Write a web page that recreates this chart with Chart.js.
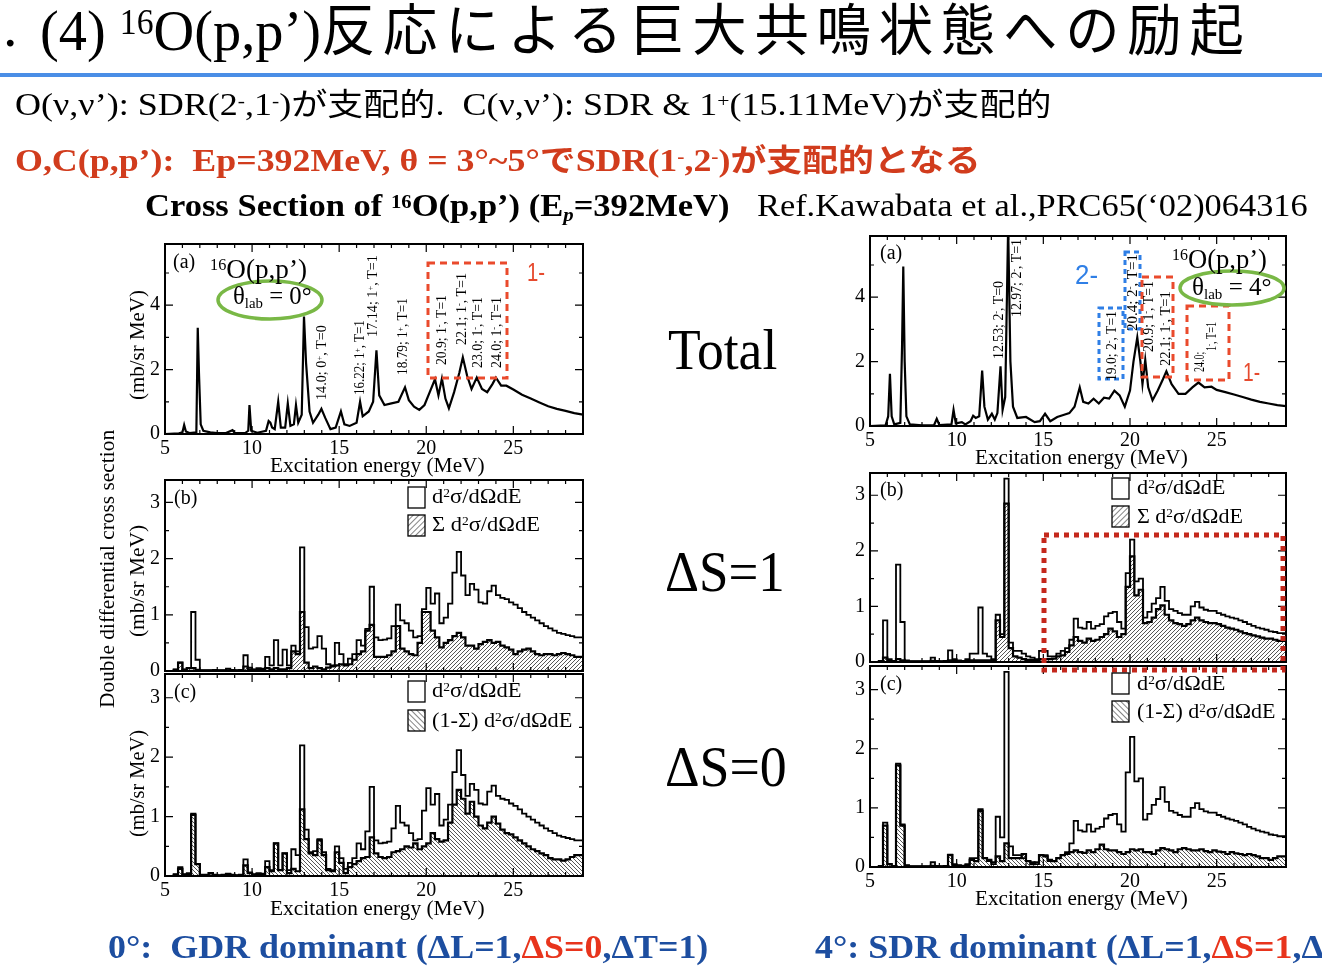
<!DOCTYPE html>
<html>
<head>
<meta charset="utf-8">
<script src="https://cdn.jsdelivr.net/npm/chart.js@4.4.0/dist/chart.umd.min.js"></script>
<style>
html,body{margin:0;padding:0;background:#fff;}
body{width:1322px;height:974px;position:relative;overflow:hidden;font-family:'Liberation Serif','Noto Sans CJK JP',serif;color:#000;}
.t{position:absolute;white-space:nowrap;line-height:1;transform-origin:0 50%;}
.r{position:absolute;white-space:nowrap;line-height:1;transform-origin:0 0;transform:rotate(-90deg);}
sup{font-size:0.6em;vertical-align:baseline;position:relative;top:-0.45em;}
sub{font-size:0.6em;vertical-align:baseline;position:relative;top:0.25em;}
.jp{font-family:'Noto Sans CJK JP',sans-serif;}
canvas{position:absolute;}
svg{position:absolute;left:0;top:0;}
</style>
</head>
<body>
<div id="plots"></div>

<svg width="1322" height="974">
  <defs>
    <pattern id="hF" width="4" height="4" patternUnits="userSpaceOnUse" patternTransform="rotate(45)">
      <rect width="4" height="4" fill="#fff"/><line x1="0" y1="0" x2="0" y2="4" stroke="#333" stroke-width="1.2"/>
    </pattern>
    <pattern id="hB" width="4" height="4" patternUnits="userSpaceOnUse" patternTransform="rotate(-45)">
      <rect width="4" height="4" fill="#fff"/><line x1="0" y1="0" x2="0" y2="4" stroke="#333" stroke-width="1.2"/>
    </pattern>
  </defs>
  <!-- annotations, panel a -->
  <rect x="428" y="263" width="79" height="115" fill="none" stroke="#ea4a2c" stroke-width="3" stroke-dasharray="7 5"/>
  <ellipse cx="270" cy="300" rx="52" ry="19" fill="none" stroke="#79b846" stroke-width="3.5"/>
  <rect x="1099" y="308" width="24" height="71" fill="none" stroke="#2f7fe6" stroke-width="3" stroke-dasharray="5 4"/>
  <rect x="1125" y="252" width="15" height="77" fill="none" stroke="#2f7fe6" stroke-width="3" stroke-dasharray="5 4"/>
  <rect x="1142" y="277" width="31" height="100" fill="none" stroke="#ea4a2c" stroke-width="3" stroke-dasharray="7 5"/>
  <rect x="1187" y="306" width="42" height="74" fill="none" stroke="#ea4a2c" stroke-width="3" stroke-dasharray="7 5"/>
  <ellipse cx="1232" cy="288" rx="52" ry="17" fill="none" stroke="#79b846" stroke-width="3.5"/>
  <rect x="1044" y="535" width="239" height="135" fill="none" stroke="#c4281c" stroke-width="5" stroke-dasharray="5 5"/>
  <!-- legend boxes -->
  <rect x="408" y="487" width="17" height="21" fill="#fff" stroke="#000" stroke-width="1.3"/>
  <rect x="408" y="515" width="17" height="21" fill="url(#hF)" stroke="#000" stroke-width="1.3"/>
  <rect x="408" y="681" width="17" height="21" fill="#fff" stroke="#000" stroke-width="1.3"/>
  <rect x="408" y="710" width="17" height="21" fill="url(#hB)" stroke="#000" stroke-width="1.3"/>
  <rect x="1112" y="478" width="17" height="21" fill="#fff" stroke="#000" stroke-width="1.3"/>
  <rect x="1112" y="506" width="17" height="21" fill="url(#hF)" stroke="#000" stroke-width="1.3"/>
  <rect x="1112" y="673" width="17" height="21" fill="#fff" stroke="#000" stroke-width="1.3"/>
  <rect x="1112" y="701" width="17" height="21" fill="url(#hB)" stroke="#000" stroke-width="1.3"/>
</svg>

<!-- header -->
<div class="t" style="left:-26px;top:-2px;font-size:58px;">1.</div>
<div class="t" data-w="1212" style="left:40px;top:-2px;font-size:58px;">(4) <sup>16</sup>O(p,p’)<span class="jp" style="font-size:56px;letter-spacing:8px;">反応による巨大共鳴状態への励起</span></div>
<div style="position:absolute;left:0;top:73px;width:1322px;height:4px;background:#4a8ee6;"></div>
<div class="t" data-w="1037" style="left:15px;top:86px;font-size:31px;">O(ν,ν’): SDR(2<sup>-</sup>,1<sup>-</sup>)<span class="jp">が支配的</span>.&nbsp; C(ν,ν’): SDR &amp; 1<sup>+</sup>(15.11MeV)<span class="jp">が支配的</span></div>
<div class="t" data-w="965" style="left:15px;top:142px;font-size:31px;font-weight:bold;color:#d13c1d;">O,C(p,p’):&nbsp; Ep=392MeV, θ = 3°~5°<span class="jp">で</span>SDR(1<sup>-</sup>,2<sup>-</sup>)<span class="jp">が支配的となる</span></div>
<div class="t" data-w="585" style="left:145px;top:190px;font-size:31px;font-weight:bold;">Cross Section of <sup>16</sup>O(p,p’) (E<sub><i>p</i></sub>=392MeV)</div>
<div class="t" data-w="551" style="left:757px;top:190px;font-size:31px;">Ref.Kawabata et al.,PRC65(‘02)064316</div>

<!-- middle labels -->
<div class="t" data-w="109" style="left:668px;top:322px;font-size:56px;">Total</div>
<div class="t" data-w="120" style="left:665px;top:544px;font-size:56px;">ΔS=1</div>
<div class="t" data-w="122" style="left:665px;top:739px;font-size:56px;">ΔS=0</div>

<!-- footer -->
<div class="t" id="bl" data-w="600" style="left:108px;top:930px;font-size:34px;font-weight:bold;color:#1d4ea0;">0°:&nbsp; GDR dominant (ΔL=1,<span style="color:#e8341c">ΔS=0</span>,ΔT=1)</div>
<div class="t" id="br" style="left:815px;top:930px;font-size:34px;font-weight:bold;color:#1d4ea0;">4°: SDR dominant (ΔL=1,<span style="color:#e8341c">ΔS=1</span>,ΔT=1)</div>

<!-- axis titles -->
<div class="t" data-w="215" style="left:270px;top:455px;font-size:21px;">Excitation energy (MeV)</div>
<div class="t" data-w="215" style="left:270px;top:898px;font-size:21px;">Excitation energy (MeV)</div>
<div class="t" data-w="213" style="left:975px;top:447px;font-size:21px;">Excitation energy (MeV)</div>
<div class="t" data-w="213" style="left:975px;top:888px;font-size:21px;">Excitation energy (MeV)</div>
<div class="r" data-w="110" style="left:127px;top:400px;font-size:20px;">(mb/sr MeV)</div>
<div class="r" data-w="112" style="left:127px;top:637px;font-size:20px;">(mb/sr MeV)</div>
<div class="r" data-w="107" style="left:127px;top:837px;font-size:20px;">(mb/sr MeV)</div>
<div class="r" data-w="278" style="left:97px;top:708px;font-size:20px;">Double differential cross section</div>

<!-- panel a annotations -->
<div class="t" style="left:173px;top:251px;font-size:20px;">(a)</div>
<div class="t" data-w="97" style="left:210px;top:255px;font-size:28px;"><sup>16</sup>O(p,p’)</div>
<div class="t" data-w="79" style="left:233px;top:283px;font-size:26px;">θ<sub>lab</sub> = 0°</div>
<div class="t" data-w="18" style="left:527px;top:259px;font-size:26px;font-family:'Liberation Sans';color:#e64a2e;">1-</div>
<div class="r" data-w="75" style="left:315px;top:400px;font-size:14px;">14.0; 0<sup>+</sup>, T=0</div>
<div class="r" data-w="75" style="left:353px;top:395px;font-size:14px;">16.22; 1<sup>+</sup>, T=1</div>
<div class="r" data-w="82" style="left:366px;top:337px;font-size:14px;">17.14; 1<sup>+</sup>, T=1</div>
<div class="r" data-w="77" style="left:396px;top:375px;font-size:14px;">18.79; 1<sup>+</sup>, T=1</div>
<div class="r" data-w="70" style="left:435px;top:365px;font-size:14px;">20.9; 1<sup>-</sup>, T=1</div>
<div class="r" data-w="72" style="left:455px;top:345px;font-size:14px;">22.1; 1<sup>-</sup>, T=1</div>
<div class="r" data-w="71" style="left:471px;top:368px;font-size:14px;">23.0; 1<sup>-</sup>, T=1</div>
<div class="r" data-w="71" style="left:490px;top:368px;font-size:14px;">24.0; 1<sup>-</sup>, T=1</div>

<div class="t" style="left:880px;top:242px;font-size:20px;">(a)</div>
<div class="t" data-w="95" style="left:1172px;top:245px;font-size:28px;"><sup>16</sup>O(p,p’)</div>
<div class="t" data-w="80" style="left:1192px;top:274px;font-size:26px;">θ<sub>lab</sub> = 4°</div>
<div class="t" data-w="23" style="left:1075px;top:262px;font-size:27px;font-family:'Liberation Sans';color:#2f7fe6;">2-</div>
<div class="t" data-w="17" style="left:1243px;top:359px;font-size:26px;font-family:'Liberation Sans';color:#e64a2e;">1-</div>
<div class="r" data-w="78" style="left:992px;top:359px;font-size:14px;">12.53; 2<sup>-</sup>, T=0</div>
<div class="r" data-w="78" style="left:1010px;top:317px;font-size:14px;">12.97; 2<sup>-</sup>, T=1</div>
<div class="r" data-w="70" style="left:1105px;top:381px;font-size:14px;">19.0; 2<sup>-</sup>, T=1</div>
<div class="r" data-w="77" style="left:1126px;top:331px;font-size:14px;">20.4; 2<sup>-</sup>, T=1</div>
<div class="r" data-w="71" style="left:1142px;top:352px;font-size:14px;">20.9; 1<sup>-</sup>, T=1</div>
<div class="r" data-w="75" style="left:1159px;top:366px;font-size:14px;">22.1; 1<sup>-</sup>, T=1</div>
<div class="r" data-w="20" style="left:1193px;top:372px;font-size:14px;">24.0;</div>
<div class="r" data-w="29" style="left:1205px;top:351px;font-size:14px;">1<sup>-</sup>, T=1</div>

<!-- panel b/c labels and legends -->
<div class="t" style="left:174px;top:487px;font-size:20px;">(b)</div>
<div class="t" style="left:174px;top:681px;font-size:20px;">(c)</div>
<div class="t" style="left:880px;top:479px;font-size:20px;">(b)</div>
<div class="t" style="left:880px;top:673px;font-size:20px;">(c)</div>
<div class="t" data-w="89" style="left:432px;top:486px;font-size:21px;">d<sup>2</sup>σ/dΩdE</div>
<div class="t" data-w="108" style="left:432px;top:514px;font-size:21px;">Σ d<sup>2</sup>σ/dΩdE</div>
<div class="t" data-w="89" style="left:432px;top:680px;font-size:21px;">d<sup>2</sup>σ/dΩdE</div>
<div class="t" data-w="140" style="left:432px;top:710px;font-size:21px;">(1-Σ) d<sup>2</sup>σ/dΩdE</div>
<div class="t" data-w="88" style="left:1137px;top:477px;font-size:21px;">d<sup>2</sup>σ/dΩdE</div>
<div class="t" data-w="106" style="left:1137px;top:506px;font-size:21px;">Σ d<sup>2</sup>σ/dΩdE</div>
<div class="t" data-w="88" style="left:1137px;top:673px;font-size:21px;">d<sup>2</sup>σ/dΩdE</div>
<div class="t" data-w="138" style="left:1137px;top:701px;font-size:21px;">(1-Σ) d<sup>2</sup>σ/dΩdE</div>

<script>
// ---- data ----
// panel (a), 0 deg
var eA0 = [5.0, 5.8, 6.0, 6.1, 6.2, 6.4, 6.8, 6.88, 6.95, 7.05, 7.2, 7.6, 8.0, 8.5, 8.88, 9.0, 9.6, 9.78, 9.85, 9.95,
  10.3, 10.8, 10.95, 11.05, 11.15, 11.3, 11.5, 11.65, 11.9, 12.05, 12.2, 12.4, 12.52, 12.65, 12.85, 12.98, 13.1, 13.3, 13.5, 13.8,
  13.98, 14.2, 14.5, 14.8, 15.1, 15.3, 15.6, 16.0, 16.2, 16.35, 16.7, 16.95, 17.14, 17.3, 17.6, 18.0, 18.4, 18.78, 19.0, 19.3,
  19.6, 19.9, 20.2, 20.5, 20.7, 20.9, 21.1, 21.3, 21.6, 21.9, 22.1, 22.35, 22.6, 22.9, 23.2, 23.5, 23.8, 24.0, 24.3, 24.6,
  25.0, 25.5, 26.0, 26.5, 27.0, 27.5, 28.0, 28.5, 29.0];
var xsA0 = [0, 0.02, 0.05, 0.28, 0.08, 0.03, 0.05, 3.3, 1.9, 0.3, 0.1, 0.05, 0.03, 0.03, 0.12, 0.03, 0.03, 0.1, 0.9, 0.1,
  0.04, 0.1, 0.4, 0.35, 0.2, 0.15, 1.0, 0.2, 0.2, 0.95, 0.25, 0.3, 0.9, 0.35, 0.6, 3.65, 2.2, 0.7, 0.35, 0.6,
  0.78, 0.5, 0.15, 0.2, 0.7, 0.3, 0.25, 0.35, 1.0, 0.55, 0.7, 1.0, 2.6, 1.2, 0.9, 0.95, 1.0, 1.45, 1.05, 0.85,
  0.75, 0.9, 1.3, 1.7, 1.2, 1.72, 1.1, 0.8, 1.3, 1.9, 2.38, 1.8, 1.4, 1.75, 1.4, 1.3, 1.55, 1.75, 1.5, 1.5,
  1.38, 1.22, 1.1, 0.98, 0.86, 0.78, 0.72, 0.65, 0.6];
// panel (a), 4 deg
var eA4 = [5.0, 5.9, 6.05, 6.15, 6.25, 6.4, 6.75, 6.85, 6.92, 7.0, 7.1, 7.3, 8.0, 8.7, 8.85, 9.0, 9.7, 9.82, 9.95, 10.3,
  10.5, 10.8, 10.95, 11.1, 11.3, 11.47, 11.6, 11.8, 12.03, 12.2, 12.35, 12.53, 12.65, 12.8, 12.97, 13.1, 13.25, 13.5, 14.0, 14.5,
  14.8, 15.1, 15.4, 15.8, 16.2, 16.5, 16.8, 17.1, 17.3, 17.6, 17.9, 18.2, 18.5, 18.8, 19.1, 19.4, 19.7, 20.0, 20.2, 20.42,
  20.6, 20.72, 20.88, 21.05, 21.3, 21.6, 21.9, 22.1, 22.4, 22.8, 23.2, 23.6, 23.95, 24.3, 24.7, 25.0, 25.5, 26.0, 26.5, 27.0,
  27.5, 28.0, 28.5, 29.0];
var xsA4 = [0, 0.02, 0.3, 1.62, 0.3, 0.05, 0.1, 2.5, 4.95, 2.0, 0.3, 0.05, 0.02, 0.03, 0.22, 0.03, 0.05, 0.5, 0.08, 0.12,
  0.05, 0.15, 0.32, 0.25, 0.3, 1.72, 0.6, 0.2, 0.38, 0.2, 0.4, 1.85, 0.5, 0.9, 6.2, 2.0, 0.6, 0.25, 0.28, 0.12,
  0.15, 0.38, 0.15, 0.28, 0.35, 0.4, 0.6, 1.2, 0.75, 0.7, 0.85, 0.7, 0.88, 0.85, 1.1, 0.95, 0.6, 1.1, 2.0, 2.75,
  2.0, 1.3, 2.05, 1.2, 0.8, 1.1, 1.45, 1.7, 1.3, 1.0, 1.0, 1.2, 1.35, 1.2, 1.22, 1.12, 1.05, 0.98, 0.9, 0.82,
  0.75, 0.7, 0.65, 0.62];

// histogram bins (lower edges, MeV), panels (b) and (c)
var binE = [
  5.00, 5.25, 5.50, 5.75, 6.00, 6.25, 6.50, 6.75,
  7.00, 7.25, 7.50, 7.75, 8.00, 8.25, 8.50, 8.75,
  9.00, 9.25, 9.50, 9.75, 10.00, 10.25, 10.50, 10.75,
  11.00, 11.25, 11.50, 11.75, 12.00, 12.25, 12.50, 12.75,
  13.00, 13.25, 13.50, 13.75, 14.00, 14.25, 14.50, 14.75,
  15.00, 15.25, 15.50, 15.75, 16.00, 16.25, 16.50, 16.75,
  17.00, 17.25, 17.50, 17.75, 18.00, 18.25, 18.50, 18.75,
  19.00, 19.25, 19.50, 19.75, 20.00, 20.25, 20.50, 20.75,
  21.00, 21.25, 21.50, 21.75, 22.00, 22.25, 22.50, 22.75,
  23.00, 23.25, 23.50, 23.75, 24.00, 24.25, 24.50, 24.75,
  25.00, 25.25, 25.50, 25.75, 26.00, 26.25, 26.50, 26.75,
  27.00, 27.25, 27.50, 27.75, 28.00, 28.25, 28.50, 28.75];
// 0 deg: total, spin-flip part (Sigma), non spin-flip part (1-Sigma)
var totL = [
  0, 0, 0, 0.03, 0.15, 0.03, 0.05, 1.05,
  0.2, 0.01, 0.01, 0.01, 0.02, 0.01, 0.01, 0.04,
  0.02, 0.01, 0.02, 0.28, 0.06, 0.03, 0.05, 0.04,
  0.25, 0.1, 0.55, 0.1, 0.38, 0.1, 0.45, 0.35,
  2.2, 0.78, 0.4, 0.42, 0.62, 0.4, 0.12, 0.1,
  0.5, 0.3, 0.12, 0.22, 0.3, 0.55, 0.45, 0.75,
  1.5, 0.6, 0.55, 0.56, 0.58, 0.8, 1.18, 0.9,
  0.85, 0.72, 0.6, 0.62, 1.1, 1.48, 1.2, 1.38,
  0.85, 0.95, 1.2, 1.75, 2.12, 1.7, 1.35, 1.55,
  1.45, 1.22, 1.2, 1.42, 1.52, 1.35, 1.3, 1.28,
  1.22, 1.18, 1.12, 1.05, 1.0, 0.95, 0.9, 0.85,
  0.8, 0.76, 0.72, 0.68, 0.66, 0.64, 0.62, 0.6];
var sigL = [
  0, 0, 0, 0.02, 0.15, 0.02, 0.05, 0.05,
  0.02, 0.01, 0.01, 0.01, 0.01, 0.01, 0.01, 0.01,
  0.01, 0.01, 0.01, 0.08, 0.03, 0.02, 0.02, 0.02,
  0.05, 0.03, 0.05, 0.03, 0.03, 0.05, 0.35, 0.3,
  1.05, 0.15, 0.05, 0.08, 0.05, 0.03, 0.06, 0.08,
  0.1, 0.12, 0.1, 0.12, 0.2, 0.3, 0.35, 0.72,
  0.82, 0.25, 0.25, 0.25, 0.28, 0.35, 0.8, 0.4,
  0.35, 0.3, 0.28, 0.5, 1.05, 1.05, 0.72, 0.6,
  0.42, 0.5, 0.55, 0.62, 0.68, 0.6, 0.45, 0.45,
  0.4, 0.48, 0.52, 0.55, 0.5, 0.52, 0.45, 0.42,
  0.38, 0.3, 0.35, 0.38, 0.4, 0.35, 0.3, 0.28,
  0.3, 0.3, 0.28, 0.3, 0.32, 0.3, 0.28, 0.25];
var resL = [
  0, 0, 0, 0.02, 0.12, 0.02, 0.03, 1.03,
  0.2, 0.02, 0.02, 0.05, 0.02, 0.01, 0.02, 0.03,
  0.02, 0.01, 0.02, 0.18, 0.05, 0.02, 0.03, 0.03,
  0.15, 0.08, 0.55, 0.1, 0.38, 0.05, 0.12, 0.08,
  1.12, 0.62, 0.38, 0.35, 0.6, 0.35, 0.1, 0.08,
  0.4, 0.22, 0.05, 0.15, 0.2, 0.25, 0.3, 0.32,
  0.65, 0.38, 0.32, 0.3, 0.32, 0.4, 0.42, 0.45,
  0.5, 0.48, 0.55, 0.45, 0.5, 0.55, 0.72, 0.62,
  0.58, 0.6, 0.9, 1.2, 1.45, 1.3, 1.05, 1.25,
  1.0, 0.85, 0.8, 0.9, 1.0, 0.88, 0.78, 0.72,
  0.7, 0.65, 0.6, 0.55, 0.5, 0.45, 0.42, 0.38,
  0.35, 0.3, 0.28, 0.28, 0.26, 0.28, 0.32, 0.35];
// 4 deg
var totR = [
  0, 0, 0, 0.02, 0.75, 0.05, 0.02, 1.75,
  0.72, 0.03, 0.01, 0.01, 0.01, 0.01, 0.01, 0.08,
  0.02, 0.01, 0.02, 0.21, 0.05, 0.03, 0.02, 0.05,
  0.15, 0.15, 0.98, 0.15, 0.1, 0.05, 0.85, 0.5,
  3.3, 0.35, 0.2, 0.2, 0.15, 0.1, 0.08, 0.05,
  0.2, 0.2, 0.1, 0.1, 0.15, 0.2, 0.25, 0.4,
  0.78, 0.62, 0.6, 0.72, 0.6, 0.65, 0.68, 0.82,
  0.88, 0.9, 0.72, 0.6, 1.6, 2.2, 1.45, 1.5,
  0.8, 0.9, 1.05, 1.15, 1.35, 1.1, 0.95, 0.92,
  0.88, 0.85, 0.85, 1.0, 1.08, 0.98, 0.94, 0.92,
  0.92, 0.88, 0.85, 0.82, 0.8, 0.78, 0.75, 0.72,
  0.68, 0.65, 0.62, 0.6, 0.58, 0.55, 0.54, 0.52];
var sigR = [
  0, 0, 0, 0, 0.08, 0.02, 0.01, 0.05,
  0.03, 0.01, 0.01, 0.01, 0.01, 0.01, 0.01, 0.02,
  0.01, 0.01, 0.01, 0.03, 0.02, 0.01, 0.01, 0.02,
  0.03, 0.03, 0.03, 0.03, 0.03, 0.03, 0.75, 0.45,
  2.85, 0.25, 0.1, 0.08, 0.05, 0.04, 0.04, 0.03,
  0.05, 0.05, 0.05, 0.06, 0.1, 0.12, 0.18, 0.3,
  0.45, 0.38, 0.35, 0.42, 0.38, 0.4, 0.45, 0.5,
  0.6, 0.55, 0.45, 0.5, 1.35, 1.9, 1.2, 1.3,
  0.7, 0.72, 0.8, 0.95, 1.02, 0.85, 0.75, 0.7,
  0.68, 0.65, 0.68, 0.75, 0.8, 0.75, 0.72, 0.7,
  0.7, 0.68, 0.65, 0.62, 0.6, 0.58, 0.55, 0.52,
  0.5, 0.48, 0.46, 0.44, 0.42, 0.42, 0.4, 0.38];
var resR = [
  0, 0, 0, 0, 0.7, 0.05, 0.01, 1.72,
  0.7, 0.02, 0.01, 0.01, 0.01, 0.01, 0.01, 0.02,
  0.01, 0.01, 0.01, 0.2, 0.03, 0.02, 0.02, 0.03,
  0.12, 0.1, 0.95, 0.15, 0.12, 0.08, 0.18, 0.1,
  0.4, 0.15, 0.15, 0.15, 0.22, 0.1, 0.05, 0.08,
  0.2, 0.18, 0.12, 0.1, 0.15, 0.2, 0.22, 0.25,
  0.28, 0.25, 0.24, 0.28, 0.25, 0.3, 0.38, 0.3,
  0.28, 0.28, 0.25, 0.22, 0.25, 0.3, 0.28, 0.3,
  0.25, 0.25, 0.22, 0.28, 0.32, 0.3, 0.28, 0.25,
  0.3, 0.32, 0.3, 0.28, 0.28, 0.3, 0.27, 0.25,
  0.28, 0.26, 0.25, 0.22, 0.25, 0.23, 0.22, 0.2,
  0.22, 0.2, 0.18, 0.15, 0.15, 0.12, 0.15, 0.18];

// ---- drawing ----
Chart.defaults.font.family = "'Liberation Serif', serif";
Chart.defaults.color = '#000';

var PL = 45, PT = 16, PR = 10;

function curve(e, v) {
  return e.map(function(x, i){ return {x: x, y: v[i]}; });
}
function steps(v) {
  var p = binE.map(function(e, i){ return {x: e, y: v[i]}; });
  p.push({x: 29, y: v[v.length - 1]});
  return p;
}
function hatchTile(dir) {
  var s = 4, t = document.createElement('canvas');
  t.width = t.height = s;
  var g = t.getContext('2d');
  g.fillStyle = '#fff'; g.fillRect(0, 0, s, s);
  g.strokeStyle = '#444'; g.lineWidth = 0.9; g.beginPath();
  if (dir > 0) {
    g.moveTo(0, s); g.lineTo(s, 0); g.moveTo(-1, 1); g.lineTo(1, -1); g.moveTo(s - 1, s + 1); g.lineTo(s + 1, s - 1);
  } else {
    g.moveTo(0, 0); g.lineTo(s, s); g.moveTo(s - 1, -1); g.lineTo(s + 1, 1); g.moveTo(-1, s - 1); g.lineTo(1, s + 1);
  }
  g.stroke();
  return t;
}

// frame + inward tick marks
var framePlugin = {
  id: 'frame',
  afterDraw: function(ch, args, o) {
    var g = ch.ctx, A = ch.chartArea, x = ch.scales.x, y = ch.scales.y;
    g.save();
    g.strokeStyle = '#000'; g.lineWidth = 1.2; g.beginPath();
    for (var v = 5; v <= 29; v++) {
      var px = x.getPixelForValue(v), L = (v % 5 === 0) ? 8 : 4;
      g.moveTo(px, A.bottom); g.lineTo(px, A.bottom - L);
      g.moveTo(px, A.top); g.lineTo(px, A.top + L);
    }
    for (var w = 0; w <= y.max + 1e-9; w += o.ymin) {
      var py = y.getPixelForValue(w);
      var M = (Math.abs(w / o.ymaj - Math.round(w / o.ymaj)) < 1e-6) ? 8 : 4;
      g.moveTo(A.left, py); g.lineTo(A.left + M, py);
      g.moveTo(A.right, py); g.lineTo(A.right - M, py);
    }
    g.stroke();
    g.lineWidth = 2;
    g.strokeRect(A.left, A.top, A.right - A.left, A.bottom - A.top);
    g.restore();
  }
};

function panel(box, ymax, ystep, xlabels, makeSets) {
  var pb = xlabels ? 34 : 16;
  var c = document.createElement('canvas');
  c.width = box[2] + PL + PR;
  c.height = box[3] + PT + pb;
  c.style.left = (box[0] - PL) + 'px';
  c.style.top = (box[1] - PT) + 'px';
  document.getElementById('plots').appendChild(c);
  var ctx = c.getContext('2d');
  new Chart(c, {
    type: 'line',
    data: { datasets: makeSets(ctx) },
    options: {
      responsive: false, animation: false, devicePixelRatio: 1,
      layout: { padding: { left: 0, top: PT, right: PR, bottom: 0 } },
      elements: { point: { radius: 0 }, line: { tension: 0 } },
      plugins: { legend: { display: false }, tooltip: { enabled: false },
                 frame: { ymaj: ystep, ymin: ystep / 2 } },
      scales: {
        x: {
          type: 'linear', min: 5, max: 29,
          grid: { display: false, drawTicks: false }, border: { display: false },
          ticks: { display: xlabels, stepSize: 5, padding: 3, maxRotation: 0, autoSkip: false, font: { size: 20 } },
          afterBuildTicks: function(s){ s.ticks = s.ticks.filter(function(t){ return t.value % 5 === 0; }); },
          afterFit: function(s){ s.height = pb; }
        },
        y: {
          min: 0, max: ymax,
          grid: { display: false, drawTicks: false }, border: { display: false },
          ticks: { stepSize: ystep, padding: 5, font: { size: 20 } },
          afterBuildTicks: function(s){
            s.ticks = s.ticks.filter(function(t){ return Math.abs(t.value / ystep - Math.round(t.value / ystep)) < 1e-6; });
          },
          afterFit: function(s){ s.width = PL; }
        }
      }
    },
    plugins: [framePlugin]
  });
}

function lineSet(data) {
  return { data: data, borderColor: '#000', borderWidth: 2.2, fill: false };
}
function totalSet(v) {
  return { data: steps(v), stepped: 'after', borderColor: '#000', borderWidth: 1.8, fill: false };
}
function hatchSet(ctx, v, dir) {
  return { data: steps(v), stepped: 'after', borderColor: '#000', borderWidth: 2.2,
           backgroundColor: ctx.createPattern(hatchTile(dir), 'repeat'), fill: 'origin' };
}

// [left, top, width, height] of each plot area
panel([165, 243, 418, 191], 5.9, 2, true, function(){ return [lineSet(curve(eA0, xsA0))]; });
panel([165, 479, 418, 193], 3.4, 1, false, function(ctx){ return [totalSet(totL), hatchSet(ctx, sigL, 1)]; });
panel([165, 673, 418, 203], 3.4, 1, true, function(ctx){ return [totalSet(totL), hatchSet(ctx, resL, -1)]; });
panel([870, 235, 416, 191], 5.9, 2, true, function(){ return [lineSet(curve(eA4, xsA4))]; });
panel([870, 472, 416, 191], 3.4, 1, false, function(ctx){ return [totalSet(totR), hatchSet(ctx, sigR, 1)]; });
panel([870, 665, 416, 202], 3.4, 1, true, function(ctx){ return [totalSet(totR), hatchSet(ctx, resR, -1)]; });

// squeeze text to the measured widths of the slide
function fitText() {
  document.querySelectorAll('[data-w]').forEach(function(el){
    var k = el.dataset.w / el.offsetWidth;
    el.style.transform = (el.classList.contains('r') ? 'rotate(-90deg) ' : '') + 'scaleX(' + k + ')';
  });
  var bl = document.getElementById('bl');
  var k2 = bl.dataset.w / bl.offsetWidth;
  document.getElementById('br').style.transform = 'scaleX(' + k2 + ')';
}
fitText();
if (document.fonts && document.fonts.ready) document.fonts.ready.then(fitText);
</script>
</body>
</html>
